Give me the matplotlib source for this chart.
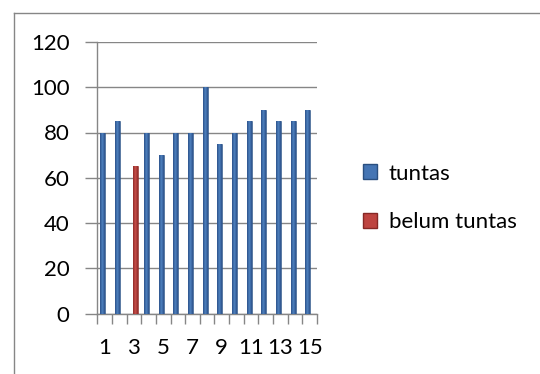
import matplotlib
matplotlib.use("Agg")
import matplotlib.pyplot as plt
import numpy as np
from matplotlib.lines import Line2D
from matplotlib.patches import Patch
from matplotlib.colors import LinearSegmentedColormap

categories = [str(i) for i in range(1, 16)]
tuntas = [80, 85, 0, 80, 70, 80, 80, 100, 75, 80, 85, 90, 85, 85, 90]
belum_tuntas = [0, 0, 65, 0, 0, 0, 0, 0, 0, 0, 0, 0, 0, 0, 0]
yticks = [0, 20, 40, 60, 80, 100, 120]

plt.rcParams['font.family'] = ['Lato', 'DejaVu Sans']

W, H = 540, 374
fig = plt.figure(figsize=(W / 100, H / 100), dpi=100)
ax = fig.add_axes([97.3 / W, 1 - 313.5 / H, (317 - 97.3) / W, (313.5 - 42) / H])

x = np.arange(1, len(categories) + 1)
bw = 0.34
off = 0.13
blue, blue_edge = '#3D6CA8', '#2A4F80'
red, red_edge = '#B23B37', '#862825'
bars_t = ax.bar(x - off, tuntas, width=bw, color=blue, edgecolor=blue_edge, linewidth=0.4, zorder=3)
bars_b = ax.bar(x + off, belum_tuntas, width=bw, color=red, edgecolor=red_edge, linewidth=0.4, zorder=3)

cm_blue = LinearSegmentedColormap.from_list('b', ['#2B5189', '#4F82C0', '#2B5189'])
cm_red = LinearSegmentedColormap.from_list('r', ['#8F2A27', '#C8504C', '#8F2A27'])
grad = np.linspace(0, 1, 64).reshape(1, -1)
for bars, cm in ((bars_t, cm_blue), (bars_b, cm_red)):
    for b in bars:
        h = b.get_height()
        if h <= 0:
            continue
        x0 = b.get_x()
        w = b.get_width()
        im = ax.imshow(grad, cmap=cm, aspect='auto', extent=(x0, x0 + w, 0, h),
                       zorder=3.5, interpolation='bilinear')
        im.set_clip_path(b)

ax.set_xlim(0.5, len(categories) + 0.5)
ax.set_ylim(0, 120)
ax.set_yticks(yticks)
ax.set_yticklabels([str(v) for v in yticks])
ax.yaxis.grid(True, color='#868686', linewidth=1.0, zorder=0)
ax.set_axisbelow(True)

ax.set_xticks(np.arange(0.5, len(categories) + 1, 1.0))
ax.set_xticklabels([])
ax.set_xticks(x[::2], minor=True)
ax.set_xticklabels(categories[::2], minor=True)
ax.tick_params(axis='x', which='major', length=7, width=1.0, color='#868686', direction='out')
ax.tick_params(axis='x', which='minor', length=0, pad=18, labelsize=16)
ax.tick_params(axis='y', length=9, width=1.0, color='#868686', direction='out', pad=11, labelsize=16)

for s in ['top', 'right']:
    ax.spines[s].set_visible(False)
for s in ['left', 'bottom']:
    ax.spines[s].set_color('#868686')
    ax.spines[s].set_linewidth(1.0)

fig.add_artist(Line2D([14 / W, 1], [1 - 12.7 / H, 1 - 12.7 / H], color='#868686', linewidth=1.0))
fig.add_artist(Line2D([14 / W, 14 / W], [0, 1 - 12.7 / H], color='#868686', linewidth=1.0))

handles = [Patch(facecolor='#4575B4', edgecolor=blue_edge), Patch(facecolor='#BE4440', edgecolor=red_edge)]
fig.legend(handles, ['tuntas', 'belum tuntas'], loc='center left',
           bbox_to_anchor=(343 / W, 1 - 198 / H), frameon=False, fontsize=16,
           handlelength=0.65, handleheight=0.65, handletextpad=0.5, labelspacing=1.3)

fig.savefig('out.png', dpi=100)
